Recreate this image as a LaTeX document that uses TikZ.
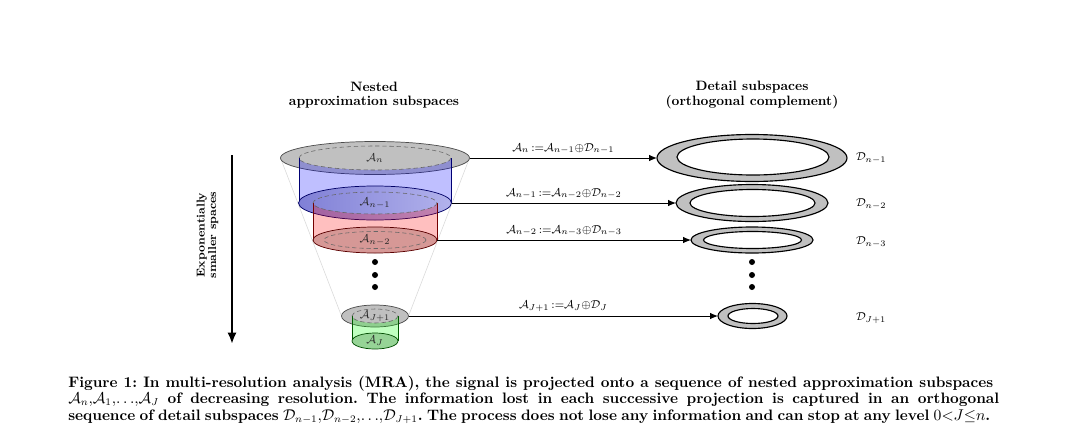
\documentclass[tikz,border=0pt]{standalone}
\usetikzlibrary{shapes.geometric,arrows.meta}
\pgfdeclarelayer{background}
\pgfsetlayers{background,main}
\definecolor{ellgray}{RGB}{192,192,192}
\definecolor{roseA}{RGB}{214,152,150}
\definecolor{greenA}{RGB}{150,212,150}
\definecolor{blueL}{RGB}{128,128,214}
\definecolor{blueR}{RGB}{178,178,236}
\begin{document}
\frenchspacing
\begin{tikzpicture}[x=0.7pt,y=-0.7pt,
  ell/.style 2 args={ellipse, inner sep=0pt, outer sep=0pt, minimum width={#1*1.4pt}, minimum height={#2*1.4pt}},
  ringbox/.style={ellipse, inner sep=0pt, outer sep=0pt, draw=black, line width=0.8pt, fill=ellgray},
  hole/.style={draw=black, line width=0.8pt, fill=white},
  dashell/.style={dashed, dash pattern=on 3pt off 2pt, draw=black!60, line width=0.4pt},
  conn/.style={-{Latex[length=5.5pt,width=4.5pt]}, line width=0.7pt},
  lab/.style={font=\footnotesize, text=black!85},
  alab/.style={above, font=\footnotesize, inner sep=2.5pt},
  dlab/.style={anchor=west, font=\fontsize{8.5}{10}\selectfont},
  dotn/.style={circle, fill=black, inner sep=0pt, minimum size=4.2pt},
  title/.style={align=center, font=\fontsize{9.5}{9.9}\selectfont\bfseries},
  capline/.style={anchor=base west, inner sep=0pt, font=\fontsize{10.6}{12}\selectfont\bfseries\frenchspacing}
]
\useasboundingbox (0,0) rectangle (1080,444);

% titles
\node[title] (t1) at (374,95) {Nested\\approximation subspaces};
\node[title] (t2) at (752,95) {Detail subspaces\\(orthogonal complement)};

% top gray ellipse
\node[ell={94.5}{16.5}, fill=ellgray, draw=black!70, line width=0.5pt, lab] (An) at (375,158) {$\mathcal{A}_n$};
% blue cylinder body
\fill[blue, fill opacity=0.25] (299,158) arc[start angle=180, end angle=0, x radius=76, y radius=12]
  -- (451,203) arc[start angle=0, end angle=180, x radius=76, y radius=17] -- cycle;
\draw[blue!45!black, line width=0.5pt] (299,158) -- (299,203) (451,158) -- (451,203);
\draw[dashell] (375,158) ellipse [x radius=76, y radius=12];
% blue ellipse
\node[ell={76.5}{17}, left color=blueL, right color=blueR, draw=blue!40!black, line width=0.5pt, lab] (An1) at (375,203) {$\mathcal{A}_{n-1}$};
% red cylinder body
\fill[red, fill opacity=0.25] (313,203) arc[start angle=180, end angle=0, x radius=62, y radius=11]
  -- (437,240) arc[start angle=0, end angle=180, x radius=62, y radius=13] -- cycle;
\draw[red!45!black, line width=0.5pt] (313,203) -- (313,240) (437,203) -- (437,240);
\draw[dashell] (375,203) ellipse [x radius=62, y radius=11];
% red ellipse
\node[ell={62}{13}, fill=roseA, draw=red!35!black, line width=0.5pt, lab] (An2) at (375,240) {$\mathcal{A}_{n-2}$};
\draw[dashell] (375,240) ellipse [x radius=51, y radius=8.5];

% dots left
\node[dotn] (ld1) at (375,262) {};
\node[dotn] (ld2) at (375,275) {};
\node[dotn] (ld3) at (375,287) {};

% small gray ellipse
\node[ell={33.5}{11}, fill=ellgray, draw=black!70, line width=0.5pt, lab] (AJ1) at (375,316) {$\mathcal{A}_{J+1}$};
\fill[green, fill opacity=0.25] (352,316) arc[start angle=180, end angle=0, x radius=23, y radius=7]
  -- (398,341) arc[start angle=0, end angle=180, x radius=23, y radius=8] -- cycle;
\draw[green!35!black, line width=0.5pt] (352,316) -- (352,341) (398,316) -- (398,341);
\draw[dashell] (375,316) ellipse [x radius=23, y radius=7];
\node[ell={23}{8}, fill=greenA, draw=green!30!black, line width=0.5pt, lab] (AJ) at (375,341) {$\mathcal{A}_J$};

% funnel lines
\begin{pgfonlayer}{background}
\draw[black!15, line width=0.4pt] (An.west) -- (AJ1.west) (An.east) -- (AJ1.east);
\end{pgfonlayer}

% detail rings
\node[ringbox, ell={95}{23.5}] (Dn1) at (752,158) {};
\path[hole] (753,157) ellipse [x radius=76, y radius=18];
\node[ringbox, ell={76}{18.5}] (Dn2) at (752,203) {};
\path[hole] (752.5,203) ellipse [x radius=62.5, y radius=13.5];
\node[ringbox, ell={61}{13}] (Dn3) at (752,240) {};
\path[hole] (752.5,240) ellipse [x radius=49, y radius=8.5];
\node[ringbox, ell={34.5}{12.5}] (DJ1) at (752.5,316) {};
\path[hole] (753,316) ellipse [x radius=25, y radius=7.5];

% dots right
\node[dotn] (rd1) at (752,262) {};
\node[dotn] (rd2) at (752,275) {};
\node[dotn] (rd3) at (752,287) {};

% arrows
\draw[conn] (An.east) -- node[alab] {$\mathcal{A}_n\,{:=}\mathcal{A}_{n-1}{\oplus}\mathcal{D}_{n-1}$} (Dn1.west);
\draw[conn] (An1.east) -- node[alab] {$\mathcal{A}_{n-1}\,{:=}\mathcal{A}_{n-2}{\oplus}\mathcal{D}_{n-2}$} (Dn2.west);
\draw[conn] (An2.east) -- node[alab] {$\mathcal{A}_{n-2}\,{:=}\mathcal{A}_{n-3}{\oplus}\mathcal{D}_{n-3}$} (Dn3.west);
\draw[conn] (AJ1.east) -- node[alab] {$\mathcal{A}_{J+1}\,{:=}\mathcal{A}_{J}{\oplus}\mathcal{D}_{J}$} (DJ1.west);

% D labels
\node[dlab] (lD1) at (851,158) {$\mathcal{D}_{n-1}$};
\node[dlab] (lD2) at (851,204) {$\mathcal{D}_{n-2}$};
\node[dlab] (lD3) at (851,242) {$\mathcal{D}_{n-3}$};
\node[dlab] (lD4) at (851,318) {$\mathcal{D}_{J+1}$};

% left arrow
\coordinate (ls) at (232,155);
\coordinate (le) at (232,344);
\draw[-{Latex[length=8pt,width=6.5pt]}, line width=1.7pt] (ls) -- (le);
\node[rotate=90, align=center, font=\fontsize{8}{7.9}\selectfont\bfseries] (side) at (207.5,235) {Exponentially\\smaller spaces};

% caption
\node[capline] (c1) at (68,387) {\hbox to 647.5pt{Figure 1: In multi-resolution analysis (MRA), the signal is projected onto a sequence of nested approximation subspaces}};
\node[capline] (c2) at (68,403.5) {\hbox to 651.7pt{$\mathcal{A}_n{,}\mathcal{A}_1{,}{\ldots}{,}\mathcal{A}_J$ of decreasing resolution. The information lost in each successive projection is captured in an orthogonal}};
\node[capline] (c3) at (68,420) {\hbox to 645.4pt{sequence of detail subspaces $\mathcal{D}_{n-1}{,}\mathcal{D}_{n-2}{,}{\ldots}{,}\mathcal{D}_{J+1}$. The process does not lose any information and can stop at any level $0{<}J{\leq}n$.}};
\end{tikzpicture}
\end{document}
